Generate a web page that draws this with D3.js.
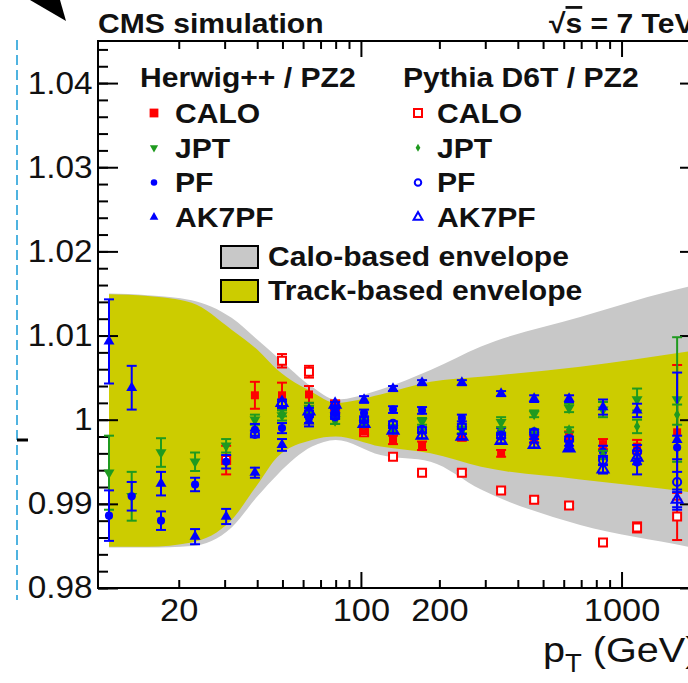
<!DOCTYPE html>
<html>
<head>
<meta charset="utf-8">
<script src="https://cdn.jsdelivr.net/npm/d3@7"></script>
<style>
  html, body { margin: 0; padding: 0; background: #fff; }
  svg { display: block; }
  text { font-family: "Liberation Sans", Arial, Helvetica, sans-serif; }
</style>
</head>
<body>
<svg id="chart" width="688" height="683"></svg>
<script>
// ---- jet pT bins ----
const ptBins = [10.8, 13.2, 17.1, 23.1, 30.4, 39.2, 49.8, 63.2, 79.6, 102.8, 132.8, 171.6, 244, 345, 462, 629, 849, 1147, 1634];

// ---- Herwig++ / PZ2 ----
const herwigCalo    = [null, null, null, null, null, 1.0029, 1.0029, 1.0030, 1.0015, 0.9988, 0.9976, 0.9969, 0.9979, 0.9960, 0.9976, 0.9981, 0.9971, 0.9968, 0.9985];
const herwigCaloErr = [null, null, null, null, null, 0.0016, 0.0015, 0.0010, 0.0007, 0.0005, 0.0005, 0.0005, 0.0004, 0.0004, 0.0004, 0.0005, 0.0006, 0.0008, 0.0080];
const herwigJpt     = [0.9937, 0.9909, 0.9961, 0.9950, 0.9969, 1.0000, 1.0005, 1.0014, 1.0000, 0.9996, 0.9990, 0.9998, 0.9988, 0.9997, 1.0007, 1.0014, 1.0012, 1.0024, 1.0024];
const herwigJptErr  = [0.0044, 0.0029, 0.0017, 0.0011, 0.0008, 0.0006, 0.0006, 0.0006, 0.0005, 0.0004, 0.0004, 0.0004, 0.0004, 0.0006, 0.0004, 0.0005, 0.0009, 0.0013, 0.0074];
const herwigPf      = [0.9886, 0.9909, 0.9880, 0.9923, 0.9950, 0.9988, 0.9990, 1.0002, 1.0008, 1.0008, 1.0012, 1.0011, 1.0002, 0.9986, 0.9981, 0.9970, 0.9962, 0.9949, 0.9967];
const herwigPfErr   = [0.0030, 0.0017, 0.0011, 0.0008, 0.0008, 0.0007, 0.0006, 0.0006, 0.0005, 0.0004, 0.0004, 0.0004, 0.0004, 0.0004, 0.0004, 0.0005, 0.0007, 0.0014, 0.0014];
const herwigAk7     = [1.0093, 1.0038, 0.9924, 0.9861, 0.9885, 0.9937, 0.9970, 0.9998, 1.0012, 1.0024, 1.0037, 1.0044, 1.0044, 1.0031, 1.0025, 1.0025, 1.0015, 1.0011, 0.9976];
const herwigAk7Err  = [0.0050, 0.0026, 0.0014, 0.0009, 0.0009, 0.0006, 0.0007, 0.0006, 0.0005, 0.0004, 0.0003, 0.0003, 0.0003, 0.0003, 0.0004, 0.0004, 0.0009, 0.0008, 0.0080];

// ---- Pythia D6T / PZ2 ----
const pythiaCalo    = [null, null, null, null, 0.9952, null, 1.0070, 1.0057, 1.0017, 0.9985, 0.9956, 0.9937, 0.9937, 0.9916, 0.9905, 0.9898, 0.9854, 0.9872, 0.9885];
const pythiaCaloErr = [null, null, null, null, 0.0017, null, 0.0008, 0.0007, 0.0006, 0.0004, 0.0003, 0.0003, 0.0003, 0.0003, 0.0003, 0.0003, 0.0004, 0.0006, 0.0028];
const pythiaJpt     = [null, null, null, null, null, null, 1.0008, 1.0012, 0.9998, 1.0000, 0.9988, 0.9988, 0.9986, 0.9988, 0.9986, 0.9988, 0.9958, 0.9992, 1.0006];
const pythiaJptErr  = [null, null, null, null, null, null, 0.0004, 0.0004, 0.0003, 0.0003, 0.0003, 0.0003, 0.0003, 0.0003, 0.0003, 0.0003, 0.0005, 0.0008, 0.0012];
const pythiaPf      = [null, null, null, null, null, 0.9983, 1.0018, 1.0007, 1.0004, 1.0000, 0.9995, 0.9988, 0.9992, 0.9981, 0.9985, 0.9977, 0.9952, 0.9962, 0.9926];
const pythiaPfErr   = [null, null, null, null, null, 0.0004, 0.0004, 0.0004, 0.0003, 0.0003, 0.0003, 0.0003, 0.0003, 0.0003, 0.0003, 0.0003, 0.0005, 0.0008, 0.0012];
const pythiaAk7     = [null, null, null, null, null, null, 1.0020, 1.0010, 1.0018, 0.9995, 0.9987, 0.9981, 0.9980, 0.9975, 0.9970, 0.9966, 0.9941, 0.9955, 0.9905];
const pythiaAk7Err  = [null, null, null, null, null, null, 0.0004, 0.0004, 0.0003, 0.0003, 0.0003, 0.0003, 0.0003, 0.0003, 0.0003, 0.0003, 0.0005, 0.0008, 0.0012];

// ---- systematic envelopes ----
const envPt      = [10.8, 15.2, 22.4, 31.9, 40.1, 47.9, 64.9, 80, 119, 185, 289, 694, 1805, 2000];
const caloEnvHi  = [1.0150, 1.0148, 1.0142, 1.0121, 1.0095, 1.0074, 1.0039, 1.0024, 1.0036, 1.0059, 1.0087, 1.0122, 1.0158, 1.0161];
const caloEnvLo  = [0.9848, 0.9848, 0.9850, 0.9872, 0.9909, 0.9935, 0.9968, 0.9976, 0.9958, 0.9950, 0.9917, 0.9875, 0.9849, 0.9846];
const trackEnvHi = [1.0149, 1.0147, 1.0139, 1.0107, 1.0083, 1.0059, 1.0033, 1.0020, 1.0030, 1.0045, 1.0051, 1.0063, 1.0081, 1.0083];
const trackEnvLo = [0.9849, 0.9849, 0.9854, 0.9881, 0.9923, 0.9956, 0.9976, 0.9980, 0.9968, 0.9960, 0.9944, 0.9929, 0.9914, 0.9912];

// ---- axis ticks ----
const xLabelTicks = [20, 100, 200, 1000];
const xMajorTicks = [100, 1000];
const xMinorTicks = [20, 30, 40, 50, 60, 70, 80, 90, 200, 300, 400, 500, 600, 700, 800, 900, 2000];
const yMajorTicks = [0.98, 0.99, 1.00, 1.01, 1.02, 1.03, 1.04];
const yMinorTicks = d3.range(0, 33).map(i => +(0.98 + i * 0.002).toFixed(3));

const RED = "#ff0000", GREEN = "#1f9a1f", BLUE = "#0000ff";
const FONT = '"Liberation Sans", Arial, Helvetica, sans-serif';
const STRETCH = 1.075;   // ROOT's Helvetica renders a little wider than Liberation Sans

const svg = d3.select("#chart");
const frame = { left: 98, right: 700, top: 41, bottom: 588 };

const x = d3.scaleLog().domain([9.8, 2000]).range([frame.left, frame.right]);
const y = d3.scaleLinear().domain([0.98, 1.045]).range([frame.bottom, frame.top]);

// place a text element at (tx, ty) with horizontal stretch
function putText(parent, tx, ty, k) {
  return parent.append("text").attr("transform", `translate(${tx},${ty}) scale(${k},1)`);
}

svg.append("defs").append("clipPath").attr("id", "plotClip")
  .append("rect").attr("x", frame.left).attr("y", frame.top)
  .attr("width", frame.right - frame.left).attr("height", frame.bottom - frame.top);

const plot = svg.append("g").attr("clip-path", "url(#plotClip)");

// envelopes
function band(lo, hi) {
  return envPt.map((p, i) => ({ p, lo: lo[i], hi: hi[i] }));
}
const area = d3.area()
  .x(d => x(d.p)).y0(d => y(d.lo)).y1(d => y(d.hi))
  .curve(d3.curveMonotoneX);

plot.append("path").datum(band(caloEnvLo, caloEnvHi))
  .attr("d", area).attr("fill", "#c8c8c8");
plot.append("path").datum(band(trackEnvLo, trackEnvHi))
  .attr("d", area).attr("fill", "#cccc00");

// axes (ROOT style: ticks inside the frame on all four sides)
function styleAxis(g, size) {
  g.select(".domain").remove();
  g.selectAll("line").attr("stroke", "#000").attr("stroke-width", 2);
  g.attr("font-family", FONT).attr("font-size", size)
    .selectAll("text").attr("fill", "#111").attr("transform", `scale(${STRETCH},1)`);
}

const axes = svg.append("g");
// bottom
axes.append("g").attr("transform", `translate(0,${frame.bottom})`)
  .call(d3.axisBottom(x).tickValues(xMinorTicks).tickSize(-8).tickFormat(""))
  .call(g => styleAxis(g, 31));
axes.append("g").attr("transform", `translate(0,${frame.bottom})`)
  .call(d3.axisBottom(x).tickValues(xMajorTicks).tickSize(-16).tickFormat(""))
  .call(g => styleAxis(g, 31));
axes.append("g").attr("transform", `translate(0,${frame.bottom})`)
  .call(d3.axisBottom(x).tickValues(xLabelTicks).tickSize(0).tickPadding(10).tickFormat(d3.format("d")))
  .call(g => styleAxis(g, 32));
// top
axes.append("g").attr("transform", `translate(0,${frame.top})`)
  .call(d3.axisTop(x).tickValues(xMinorTicks).tickSize(-8).tickFormat(""))
  .call(g => styleAxis(g, 31));
axes.append("g").attr("transform", `translate(0,${frame.top})`)
  .call(d3.axisTop(x).tickValues(xMajorTicks).tickSize(-16).tickFormat(""))
  .call(g => styleAxis(g, 31));
// left
axes.append("g").attr("transform", `translate(${frame.left},0)`)
  .call(d3.axisLeft(y).tickValues(yMinorTicks).tickSize(-10).tickFormat(""))
  .call(g => styleAxis(g, 31));
axes.append("g").attr("transform", `translate(${frame.left},0)`)
  .call(d3.axisLeft(y).tickValues(yMajorTicks).tickSize(-20).tickPadding(5)
    .tickFormat(d => Math.abs(d - 1) < 1e-9 ? "1" : d3.format(".2f")(d)))
  .call(g => styleAxis(g, 31));
// right
axes.append("g").attr("transform", `translate(${frame.right},0)`)
  .call(d3.axisRight(y).tickValues(yMinorTicks).tickSize(-10).tickFormat(""))
  .call(g => styleAxis(g, 31));
axes.append("g").attr("transform", `translate(${frame.right},0)`)
  .call(d3.axisRight(y).tickValues(yMajorTicks).tickSize(-20).tickFormat(""))
  .call(g => styleAxis(g, 31));

// frame
svg.append("rect")
  .attr("x", frame.left).attr("y", frame.top)
  .attr("width", frame.right - frame.left).attr("height", frame.bottom - frame.top)
  .attr("fill", "none").attr("stroke", "#000").attr("stroke-width", 2);

// markers
const shapes = {
  square:  d3.symbol().type(d3.symbolSquare).size(64)(),
  circle:  d3.symbol().type(d3.symbolCircle).size(52)(),
  tri:     d3.symbol().type(d3.symbolTriangle).size(52)(),
  down:    d3.symbol().type(d3.symbolTriangle).size(52)(),
  diamond: d3.symbol().type(d3.symbolDiamond).size(34)()
};

const herwigSeries = [
  { v: herwigCalo, e: herwigCaloErr, color: RED,   shape: "square", open: false },
  { v: herwigJpt,  e: herwigJptErr,  color: GREEN, shape: "down",   open: false },
  { v: herwigPf,   e: herwigPfErr,   color: BLUE,  shape: "circle", open: false },
  { v: herwigAk7,  e: herwigAk7Err,  color: BLUE,  shape: "tri",    open: false }
];
const pythiaSeries = [
  { v: pythiaCalo, e: pythiaCaloErr, color: RED,   shape: "square",  open: true },
  { v: pythiaJpt,  e: pythiaJptErr,  color: GREEN, shape: "diamond", open: false },
  { v: pythiaPf,   e: pythiaPfErr,   color: BLUE,  shape: "circle",  open: true },
  { v: pythiaAk7,  e: pythiaAk7Err,  color: BLUE,  shape: "tri",     open: true }
];

function drawMarker(g, s, cx, cy, k = 1) {
  const rot = s.shape === "down" ? " rotate(180)" : "";
  const m = g.append("path").attr("d", shapes[s.shape])
    .attr("transform", `translate(${cx},${cy})${rot} scale(${k})`);
  if (s.open) {
    m.attr("fill", s.shape === "square" ? "#fff" : "none")
     .attr("stroke", s.color).attr("stroke-width", 2 / k);
  } else {
    m.attr("fill", s.color);
  }
}

// open Calo squares go underneath, the rest follow
const drawOrder = [pythiaSeries[0], ...herwigSeries, pythiaSeries[1], pythiaSeries[2], pythiaSeries[3]];
const pts = svg.append("g").attr("clip-path", "url(#plotClip)");
drawOrder.forEach(s => {
  const g = pts.append("g");
  ptBins.forEach((p, i) => {
    const v = s.v[i];
    if (v == null) return;
    const cx = x(p), err = s.e[i] || 0;
    const y1 = y(v + err), y2 = y(v - err);
    g.append("line").attr("x1", cx).attr("x2", cx).attr("y1", y1).attr("y2", y2)
      .attr("stroke", s.color).attr("stroke-width", 2);
    [y1, y2].forEach(yy => g.append("line")
      .attr("x1", cx - 5).attr("x2", cx + 5).attr("y1", yy).attr("y2", yy)
      .attr("stroke", s.color).attr("stroke-width", 2));
    drawMarker(g, s, cx, y(v));
  });
});

// legend
const leg = svg.append("g").attr("font-family", FONT).attr("font-weight", "bold")
  .attr("font-size", 28).attr("fill", "#111");
putText(leg, 140, 87, STRETCH).text("Herwig++ / PZ2");
putText(leg, 403, 87, STRETCH).text("Pythia D6T / PZ2");
const rowNames = ["CALO", "JPT", "PF", "AK7PF"];
const legScaleLeft = [1.1, 0.75, 0.8, 0.8];
const legScaleRight = [1.0, 0.75, 0.8, 0.8];
rowNames.forEach((name, i) => {
  const cy = 113 + i * 34.7;
  drawMarker(leg, herwigSeries[i], 154, cy, legScaleLeft[i]);
  drawMarker(leg, pythiaSeries[i], 418, cy, legScaleRight[i]);
  putText(leg, 175, cy + 10, STRETCH).text(name);
  putText(leg, 437, cy + 10, STRETCH).text(name);
});
leg.append("rect").attr("x", 221).attr("y", 246).attr("width", 37).attr("height", 22)
  .attr("fill", "#c8c8c8").attr("stroke", "#000").attr("stroke-width", 2);
leg.append("rect").attr("x", 221).attr("y", 280).attr("width", 37).attr("height", 22)
  .attr("fill", "#cccc00").attr("stroke", "#000").attr("stroke-width", 2);
putText(leg, 268, 266, STRETCH).text("Calo-based envelope");
putText(leg, 268, 300, STRETCH).text("Track-based envelope");

// header texts
const head = svg.append("g").attr("font-family", FONT).attr("font-weight", "bold")
  .attr("font-size", 28).attr("fill", "#111");
putText(head, 98, 33, STRETCH).text("CMS simulation");
const energy = putText(head, 549, 33, STRETCH);
energy.append("tspan").text("√");
energy.append("tspan").attr("text-decoration", "overline").text("s");
energy.append("tspan").text(" = 7 TeV");

// x-axis title
const xt = putText(svg, 543, 662, 1.1).attr("font-family", FONT)
  .attr("font-size", 36).attr("fill", "#111");
xt.append("tspan").text("p");
xt.append("tspan").attr("font-size", 25).attr("dy", 10).text("T");
xt.append("tspan").attr("dy", -10).text(" (GeV)");

// neighbouring panel edge on the left
svg.append("line").attr("x1", 17).attr("x2", 17).attr("y1", 40).attr("y2", 600)
  .attr("stroke", "#4fb3e0").attr("stroke-width", 2).attr("stroke-dasharray", "10,5");
svg.append("line").attr("x1", 17).attr("x2", 28).attr("y1", 440).attr("y2", 440)
  .attr("stroke", "#000").attr("stroke-width", 3);
svg.append("path").attr("d", "M30,0 L66,21 L60,0 Z").attr("fill", "#000");
</script>
</body>
</html>
